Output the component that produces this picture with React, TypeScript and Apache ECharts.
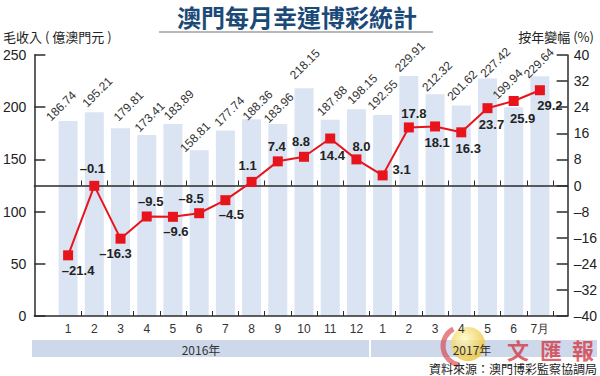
import React, { useEffect, useRef } from 'react';
import * as echarts from 'echarts';

// ---- data ----
const months = ['1', '2', '3', '4', '5', '6', '7', '8', '9', '10', '11', '12', '1', '2', '3', '4', '5', '6', '7月'];
const revenue = [186.74, 195.21, 179.81, 173.41, 183.89, 158.81, 177.74, 188.36, 183.96, 218.15, 187.88, 198.15, 192.55, 229.91, 212.32, 201.62, 227.42, 199.94, 229.64];
const yoyChange = [-21.4, -0.1, -16.3, -9.5, -9.6, -8.5, -4.5, 1.1, 7.4, 8.8, 14.4, 8.0, 3.1, 17.8, 18.1, 16.3, 23.7, 25.9, 29.2];
const years = ['2016年', '2017年'];
const revenueAxis = { min: 0, max: 250, interval: 50 };
const changeAxis = { min: -40, max: 40, interval: 8 };

// ---- label placement (styling, not data): screen offsets of label centres ----
const barLabelOffsets: [number, number][] = [
  [-7, -15], [3, -20], [8, -22], [3, -18], [6, -19], [-4, -13], [4, -19], [6, -14], [1, -16], [1, -24],
  [2, -19], [6, -20], [0, -20], [1, -19], [2, -18], [1, -20], [8, -16], [-6, -23], [-1, -13],
];
const yoyLabelOffsets: [number, number][] = [
  [10, 15], [-2, -17], [-5, 15], [4, -15], [3, 15], [-8, -15], [6, 14], [-4, -16], [-1, -15], [-3, -15],
  [2, 17], [5, -13], [19, -6], [5, -14], [2, 16], [7, 16], [4, 16], [9, 17], [10, 15],
];

const NUM = '"Liberation Sans Narrow", "Liberation Sans", Arial, sans-serif';
const CJK = '"Noto Sans CJK TC", "Noto Sans CJK SC", sans-serif';
const RED = '#e8141c';
const AXIS = '#2b2b2b';
const BAR_LABEL_ROTATE = 45;

const signed = (v: number, d: number) => (v < 0 ? '\u2013' + Math.abs(v).toFixed(d) : v.toFixed(d));

// ECharts rotates a label's offset around its anchor; undo that so the offset is a screen offset.
const unrotate = ([dx, dy]: [number, number], deg: number): [number, number] => {
  const r = (deg * Math.PI) / 180;
  const c = Math.cos(r);
  const s = Math.sin(r);
  return [c * dx - s * dy, s * dx + c * dy];
};

export default function App() {
  const ref = useRef<HTMLDivElement>(null);
  useEffect(() => {
    if (!ref.current) return;
    const chart = echarts.init(ref.current, null, { renderer: 'svg' });
    const option: any = {
      animation: false,
      backgroundColor: '#ffffff',
      grid: [
        { left: 55, right: 47, top: 55, bottom: 60 },
        { left: 32, right: 28, top: 55, bottom: 60 },
      ],
      xAxis: [
        {
          gridIndex: 0, type: 'category', data: months, position: 'bottom',
          axisLine: { show: false, onZero: false },
          axisTick: { show: true, inside: true, length: 5, interval: (i: number) => i !== 0, lineStyle: { color: AXIS, width: 1 } },
          axisLabel: { color: '#333', fontSize: 12, fontFamily: NUM, margin: 7 },
          splitLine: { show: false },
          z: 4,
        },
        {
          gridIndex: 0, type: 'category', data: months, position: 'bottom',
          axisLine: { show: false, onZero: true, onZeroAxisIndex: 1 },
          axisTick: { show: true, inside: true, length: 5, interval: (i: number) => i !== 0, lineStyle: { color: AXIS, width: 1 } },
          axisLabel: { show: false },
          splitLine: { show: false },
          z: 4,
        },
        {
          gridIndex: 1, type: 'value', min: 0, max: 1, position: 'bottom',
          axisLine: { show: true, onZero: false, lineStyle: { color: AXIS, width: 1.5 } },
          axisTick: { show: false }, axisLabel: { show: false }, splitLine: { show: false },
          z: 4,
        },
        {
          gridIndex: 1, type: 'value', min: 0, max: 1, position: 'bottom',
          axisLine: { show: true, onZero: true, onZeroAxisIndex: 3, lineStyle: { color: AXIS, width: 1.5 } },
          axisTick: { show: false }, axisLabel: { show: false }, splitLine: { show: false },
          z: 4,
        },
      ],
      yAxis: [
        { gridIndex: 0, type: 'value', ...revenueAxis, show: false, axisLine: { onZero: false }, splitLine: { show: false } },
        { gridIndex: 0, type: 'value', ...changeAxis, show: false, axisLine: { onZero: false }, splitLine: { show: false } },
        {
          gridIndex: 1, type: 'value', ...revenueAxis, position: 'left',
          axisLine: { show: true, onZero: false, lineStyle: { color: AXIS, width: 1.5 } },
          axisTick: { show: true, inside: true, length: 11, lineStyle: { color: AXIS, width: 1.5 } },
          axisLabel: { color: '#222', fontSize: 14, fontFamily: NUM, margin: 8 },
          splitLine: { show: false },
          z: 4,
        },
        {
          gridIndex: 1, type: 'value', ...changeAxis, position: 'right',
          axisLine: { show: true, onZero: false, lineStyle: { color: AXIS, width: 1.5 } },
          axisTick: { show: true, inside: true, length: 11, lineStyle: { color: AXIS, width: 1.5 } },
          axisLabel: { color: '#222', fontSize: 14, fontFamily: NUM, margin: 6, formatter: (v: number) => (v < 0 ? '\u2013' + Math.abs(v) : String(v)) },
          splitLine: { show: false },
          z: 4,
        },
      ],
      series: [
        {
          type: 'bar', xAxisIndex: 0, yAxisIndex: 0, barWidth: 19, z: 1,
          data: revenue.map((v, i) => ({ value: v, label: { offset: unrotate(barLabelOffsets[i], BAR_LABEL_ROTATE) } })),
          itemStyle: { color: '#dbe4f3' },
          label: {
            show: true, position: 'top', distance: 0, rotate: BAR_LABEL_ROTATE, align: 'center', verticalAlign: 'middle',
            formatter: (p: any) => Number(p.value).toFixed(2), fontSize: 12, color: '#333', fontFamily: NUM,
          },
        },
        {
          type: 'line', xAxisIndex: 0, yAxisIndex: 1, z: 10,
          data: yoyChange.map((v, i) => ({ value: v, label: { offset: yoyLabelOffsets[i] } })),
          symbol: 'rect', symbolSize: 10,
          lineStyle: { color: RED, width: 2 },
          itemStyle: { color: RED },
          label: {
            show: true, position: 'inside', align: 'center', verticalAlign: 'middle',
            fontWeight: 'bold', fontSize: 13, color: '#222', fontFamily: '"Liberation Sans", Arial, sans-serif',
            formatter: (p: any) => signed(Number(p.value), 1),
          },
        },
      ],
      graphic: [
        { type: 'text', x: 297, y: 16, style: { text: '澳門每月幸運博彩統計', font: `bold 24px ${CJK}`, fill: '#1b4a78', align: 'center', verticalAlign: 'middle' } },
        { type: 'line', shape: { x1: 159, y1: 32, x2: 433, y2: 32 }, style: { stroke: '#a0a0a0', lineWidth: 1.5 } },
        { type: 'text', x: 3, y: 36, style: { text: '毛收入 ( 億澳門元 )', font: `13px ${CJK}`, fill: '#222', verticalAlign: 'middle' } },
        { type: 'text', x: 594, y: 36, style: { text: '按年變幅 (%)', font: `13px ${CJK}`, fill: '#222', align: 'right', verticalAlign: 'middle' } },
        { type: 'rect', shape: { x: 32, y: 340, width: 337, height: 17 }, style: { fill: '#cdd9eb' } },
        { type: 'rect', shape: { x: 371, y: 340, width: 226, height: 17 }, style: { fill: '#cdd9eb' } },
        { type: 'text', x: 201, y: 349, style: { text: years[0], font: `12px ${CJK}`, fill: '#333', align: 'center', verticalAlign: 'middle' } },
        {
          type: 'circle', shape: { cx: 468, cy: 344, r: 17 },
          style: {
            fill: new echarts.graphic.RadialGradient(0.4, 0.35, 0.7, [
              { offset: 0, color: 'rgba(255,250,200,0.85)' },
              { offset: 1, color: 'rgba(235,190,40,0.8)' },
            ]),
          },
        },
        { type: 'arc', shape: { cx: 462, cy: 346, r: 19, startAngle: Math.PI * 0.55, endAngle: Math.PI * 1.35 }, style: { stroke: 'rgba(215,50,60,0.6)', lineWidth: 5, fill: 'none' } },
        { type: 'text', x: 472, y: 349, style: { text: years[1], font: `12px ${CJK}`, fill: '#333', align: 'center', verticalAlign: 'middle' } },
        { type: 'text', x: 518, y: 349, style: { text: '文', font: `bold 22px ${CJK}`, fill: 'rgba(215,40,50,0.72)', align: 'center', verticalAlign: 'middle' } },
        { type: 'text', x: 551, y: 349, style: { text: '匯', font: `bold 22px ${CJK}`, fill: 'rgba(215,40,50,0.72)', align: 'center', verticalAlign: 'middle' } },
        { type: 'text', x: 583, y: 349, style: { text: '報', font: `bold 22px ${CJK}`, fill: 'rgba(215,40,50,0.72)', align: 'center', verticalAlign: 'middle' } },
        { type: 'text', x: 597, y: 368, style: { text: '資料來源：澳門博彩監察協調局', font: `12px ${CJK}`, fill: '#222', align: 'right', verticalAlign: 'middle' } },
      ],
    };
    chart.setOption(option);
    return () => chart.dispose();
  }, []);
  return <div ref={ref} style={{ position: 'fixed', left: 0, top: 0, width: 600, height: 376 }} />;
}
